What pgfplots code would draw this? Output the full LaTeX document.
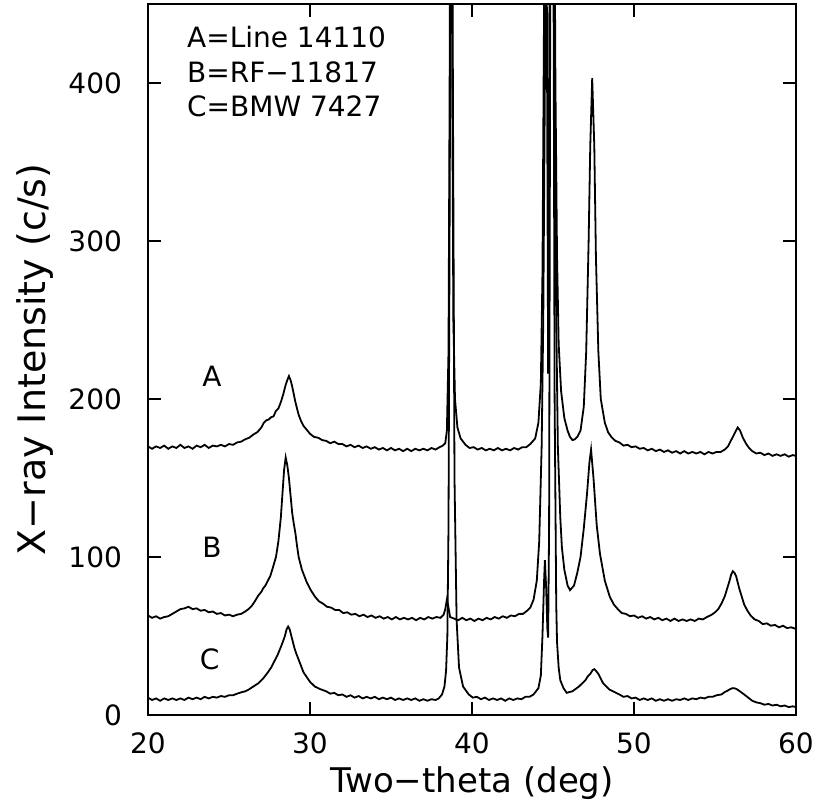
\documentclass[border=0pt]{standalone}
\usepackage{fontspec}
\setmainfont{DejaVu Sans}
\usepackage{pgfplots}
\pgfplotsset{compat=1.18}
\begin{document}
\begin{tikzpicture}
\begin{axis}[
  scale only axis,
  width=324pt, height=355.5pt,
  xmin=20, xmax=60, ymin=0, ymax=450,
  xtick={20,30,40,50,60},
  ytick={0,100,200,300,400},
  tick align=inside,
  major tick length=6.5pt,
  minor tick num=0,
  axis line style={line width=1pt},
  every tick/.style={line width=0.9pt, black},
  /pgf/number format/assume math mode=true,
  tick label style={font=\fontsize{14}{16}\selectfont},
  xticklabel style={yshift=-5.5pt},
  yticklabel style={xshift=-9.5pt},
  xlabel={Two−theta (deg)},
  ylabel={X−ray Intensity (c/s)},
  xlabel style={font=\fontsize{17}{20}\selectfont, at={(axis description cs:0.5,-0.0956)}, anchor=center},
  ylabel style={font=\fontsize{19}{22}\selectfont, at={(axis description cs:-0.1744,0.5)}, anchor=center, rotate=0},
  clip=true,
]
% Curve A
\addplot[black, line width=0.9pt] coordinates {
(20,170) (20.25,168.5) (20.5,170) (20.75,169) (21,170.5) (21.25,168.5) (21.5,170) (21.75,169) (22,171) (22.25,169) (22.5,170) (22.75,168.5) (23,170.5) (23.25,169.5) (23.5,171) (23.75,169) (24,170.5) (24.25,170) (24.5,171) (24.75,170) (25,171.5) (25.25,171) (25.5,172.5) (25.75,173) (26,174.5) (26.25,175.5) (26.5,177.5) (26.75,179) (27,182) (27.15,185) (27.3,186.5) (27.45,187) (27.6,188.5) (27.75,189) (27.9,192.5) (28.05,194) (28.2,198) (28.35,203) (28.5,209) (28.6,212) (28.7,214.5) (28.8,212) (28.9,208) (29.0,203) (29.1,198) (29.2,194) (29.3,190) (29.45,186) (29.6,183) (29.8,180.5) (30,178) (30.25,176) (30.5,175.5) (30.75,174) (31,173.5) (31.25,172) (31.5,173) (31.75,171.5) (32,171.5) (32.25,170) (32.5,171) (32.75,169.5) (33,170.5) (33.25,169) (33.5,170) (33.75,168.5) (34,169.5) (34.25,168) (34.5,169) (34.75,167.5) (35,169) (35.25,167.5) (35.5,168.5) (35.75,167) (36,168.5) (36.25,167) (36.5,168.5) (36.75,167.5) (37,168.5) (37.25,167.5) (37.5,169) (37.75,168) (38,169.5) (38.2,170.5) (38.35,172) (38.45,180) (38.55,230) (38.62,400) (38.7,900) (38.78,400) (38.85,250) (38.95,200) (39.1,182) (39.3,175) (39.6,171) (39.85,169) (40.1,169.5) (40.35,168) (40.6,169) (40.85,167.5) (41.1,168.5) (41.35,167.5) (41.6,169) (41.85,167.5) (42.1,168.5) (42.35,167.5) (42.6,169) (42.85,168) (43.1,169.5) (43.35,169.5) (43.6,171.5) (43.9,175) (44.1,185) (44.25,210) (44.35,280) (44.45,450) (44.55,700) (44.62,450) (44.7,216) (44.78,450) (44.9,800) (45.05,600) (45.15,400) (45.25,290) (45.35,235) (45.5,205) (45.7,188) (45.9,180) (46.05,176) (46.2,174) (46.35,174.5) (46.5,176) (46.7,180) (46.9,195) (47.05,230) (47.2,300) (47.3,360) (47.42,403) (47.55,360) (47.65,290) (47.8,230) (47.95,200) (48.2,185) (48.4,179) (48.6,176) (48.85,173.5) (49.1,172.5) (49.35,170.5) (49.6,171) (49.85,169.5) (50.1,170) (50.35,168.5) (50.6,169) (50.85,167.5) (51.1,168.5) (51.35,167) (51.6,168) (51.85,166.5) (52.1,167.5) (52.35,166) (52.6,167) (52.85,165.5) (53.1,167) (53.35,165.5) (53.6,166.5) (53.85,165.5) (54.1,166.5) (54.35,165) (54.6,166.5) (54.85,165.5) (55.1,166.5) (55.35,166.5) (55.6,168) (55.8,170) (55.95,173) (56.1,176) (56.25,179) (56.4,182) (56.55,180) (56.7,176) (56.9,172) (57.1,169) (57.3,167) (57.55,165.5) (57.8,166) (58.05,164.5) (58.3,165.5) (58.55,164) (58.8,165) (59.05,164) (59.3,165) (59.55,163.5) (59.8,164.5) (60,164)
};
% Curve B
\addplot[black, line width=0.9pt] coordinates {
(20,63) (20.25,61.5) (20.5,62.5) (20.75,61) (21,62) (21.25,62.5) (21.5,64) (21.75,65.5) (22,67) (22.25,67.5) (22.5,68.5) (22.75,67) (23,67.5) (23.25,66) (23.5,66.5) (23.75,65) (24,65.5) (24.25,64) (24.5,64.5) (24.75,63) (25,63.5) (25.25,62.5) (25.5,63.5) (25.75,64) (26,65.5) (26.2,67) (26.4,69) (26.6,72) (26.8,75.5) (27,78) (27.1,80) (27.25,82) (27.4,85) (27.55,88) (27.7,93) (27.9,100) (28.05,110) (28.2,125) (28.3,140) (28.4,155) (28.5,163) (28.6,158) (28.7,150) (28.8,139) (28.9,128) (29.0,121) (29.1,115) (29.2,107) (29.3,100) (29.4,96) (29.5,92) (29.65,88) (29.8,84) (30.05,79) (30.3,75) (30.55,72) (30.8,70.5) (31.05,68.5) (31.3,68) (31.55,66.5) (31.8,66.5) (32.05,64.5) (32.3,65) (32.55,63.5) (32.8,64) (33.05,62.5) (33.3,63.5) (33.55,62) (33.8,63) (34.05,61.5) (34.3,62.5) (34.55,61) (34.8,62) (35.05,60.5) (35.3,62) (35.55,60.5) (35.8,61.5) (36.05,60.5) (36.3,61.5) (36.55,60) (36.8,61.5) (37.05,60.5) (37.3,62) (37.55,61) (37.8,62) (38.05,61.5) (38.25,63.5) (38.35,67) (38.45,73) (38.55,68) (38.65,62) (38.9,61) (39.15,60) (39.4,61.5) (39.65,60) (39.9,61) (40.15,59.5) (40.4,61) (40.65,60) (40.9,61.5) (41.15,60.5) (41.4,62) (41.65,61) (41.9,62.5) (42.15,61.5) (42.4,63) (42.65,62.5) (42.9,64) (43.15,64) (43.4,66) (43.6,68) (43.8,73) (44,85) (44.15,110) (44.3,170) (44.4,250) (44.5,400) (44.6,900) (44.75,1200) (44.9,900) (45.05,500) (45.2,250) (45.3,170) (45.45,125) (45.55,106) (45.7,92) (45.9,82) (46.05,79) (46.3,82) (46.5,90) (46.7,100) (46.9,118) (47.1,140) (47.25,160) (47.35,168) (47.5,150) (47.7,120) (47.9,102) (48.2,85) (48.5,75) (48.75,70) (49,67) (49.25,64.5) (49.5,64) (49.75,62.5) (50,63) (50.25,61.5) (50.5,62.5) (50.75,61) (51,62) (51.25,60.5) (51.5,61.5) (51.75,60) (52,61) (52.25,59.5) (52.5,61) (52.75,59.5) (53,60.5) (53.25,59.5) (53.5,60.5) (53.75,59.5) (54,61) (54.25,60.5) (54.5,62) (54.8,63.5) (55.0,65) (55.2,67) (55.4,70.5) (55.6,75) (55.75,80) (55.9,85) (56.0,89) (56.1,91) (56.2,90) (56.3,88) (56.4,84) (56.5,80) (56.65,75) (56.8,70) (57.0,66) (57.2,63) (57.45,60.5) (57.7,59.5) (57.95,57.5) (58.2,58) (58.45,56.5) (58.7,57) (58.95,55.5) (59.2,56.5) (59.45,55) (59.7,55.5) (60,54.5)
};
% Curve C
\addplot[black, line width=0.9pt] coordinates {
(20,11) (20.25,9.5) (20.5,10.5) (20.75,9) (21,10.5) (21.25,9.5) (21.5,10.5) (21.75,9.5) (22,10.5) (22.25,9.5) (22.5,11) (22.75,10) (23,11) (23.25,10) (23.5,11.5) (23.75,10.5) (24,11.5) (24.25,11) (24.5,12) (24.75,11.5) (25,12.5) (25.25,12.5) (25.5,13.5) (25.8,14.5) (26.0,15) (26.2,16) (26.5,18) (26.8,20) (27.1,23) (27.4,27) (27.6,30) (27.8,34) (28.0,38) (28.2,43) (28.35,47) (28.45,50) (28.55,54) (28.65,56) (28.75,54) (28.85,50) (28.95,46) (29.05,42) (29.15,39) (29.3,35) (29.45,31) (29.6,27) (29.8,24) (30,21) (30.3,18) (30.6,16.5) (31,15) (31.25,13.5) (31.5,14) (31.75,12.5) (32,13) (32.25,11.5) (32.5,12.5) (32.75,11) (33,12) (33.25,10.5) (33.5,11.5) (33.75,10.5) (34,11.5) (34.25,10) (34.5,11) (34.75,10) (35,11) (35.25,9.5) (35.5,10.5) (35.75,9.5) (36,10.5) (36.25,9.5) (36.5,10.5) (36.75,9) (37,10) (37.25,9) (37.5,10) (37.75,9.5) (37.95,10.5) (38.15,13) (38.3,18) (38.4,28) (38.48,50) (38.55,120) (38.65,400) (38.72,900) (38.82,400) (38.92,150) (39.05,60) (39.2,30) (39.45,18) (39.8,13) (40.05,11) (40.3,11.5) (40.55,10) (40.8,11) (41.05,9.5) (41.3,10.5) (41.55,9.5) (41.8,10.5) (42.05,9) (42.3,10.5) (42.55,9.5) (42.8,10.5) (43.05,10) (43.3,11.5) (43.55,11.5) (43.8,13) (44.1,17) (44.25,25) (44.35,50) (44.45,85) (44.5,98) (44.58,80) (44.65,55) (44.7,49) (44.76,120) (44.82,400) (44.9,900) (45.0,600) (45.1,200) (45.2,70) (45.25,46) (45.35,30) (45.45,22) (45.65,17) (45.85,14) (46.0,14.5) (46.2,15) (46.4,16.5) (46.6,18) (46.8,20) (47.0,22) (47.15,24.5) (47.3,26) (47.45,28.5) (47.55,29) (47.65,28) (47.8,26) (47.95,23) (48.1,20) (48.3,18) (48.5,16) (48.8,14.5) (49.1,13) (49.35,11.5) (49.6,12) (49.85,10.5) (50.1,11) (50.35,9.5) (50.6,10.5) (50.85,9.5) (51.1,10.5) (51.35,9) (51.6,10) (51.85,9) (52.1,10) (52.35,9) (52.6,10) (52.85,9.5) (53.1,10.5) (53.35,9.5) (53.6,10.5) (53.85,10) (54.1,11) (54.35,10.5) (54.6,11.5) (54.85,11.5) (55.1,12.5) (55.4,13) (55.6,14.5) (55.8,15.5) (55.95,16.5) (56.1,17) (56.25,16.8) (56.4,16) (56.6,14.5) (56.8,13) (57.05,11) (57.3,9) (57.55,8) (57.8,7.5) (58.05,6.5) (58.3,7) (58.55,6) (58.8,6.5) (59.05,5.5) (59.3,6) (59.55,5) (59.8,5.5) (60,5)
};
\node[anchor=west, font=\fontsize{14}{16}\selectfont] at (axis cs:21.98,429) {A=Line 14110};
\node[anchor=west, font=\fontsize{14}{16}\selectfont] at (axis cs:21.98,407) {B=RF−11817};
\node[anchor=west, font=\fontsize{14}{16}\selectfont] at (axis cs:21.98,385) {C=BMW 7427};
\node[font=\fontsize{14}{16}\selectfont] at (axis cs:23.95,214.6) {A};
\node[font=\fontsize{14}{16}\selectfont] at (axis cs:23.95,106) {B};
\node[font=\fontsize{14}{16}\selectfont] at (axis cs:23.8,35) {C};
\end{axis}
\pgfresetboundingbox
\path[use as bounding box] (-74pt,-47.5pt) rectangle (334pt,357.5pt);
\end{tikzpicture}
\end{document}
